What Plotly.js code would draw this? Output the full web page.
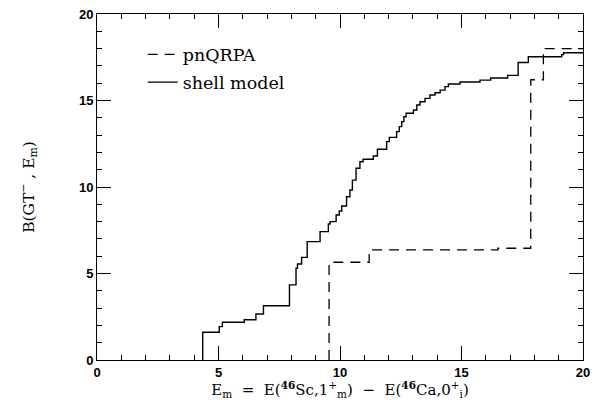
<!DOCTYPE html>
<html>
<head>
<meta charset="utf-8">
<script src="https://cdn.plot.ly/plotly-3.0.1.min.js"></script>
<style>html,body{margin:0;padding:0;background:#fff;}#chart{width:594px;height:400px;}</style>
</head>
<body>
<div id="chart"></div>
<script>
// Shell model cumulative B(GT-) step curve: excitation energies and cumulative strengths
var shellE = [4.35, 4.35, 5.03, 5.16, 6.06, 6.54, 6.85, 7.92, 8.19, 8.25, 8.42, 8.65, 9.18, 9.52, 9.59, 9.84, 9.97, 10.07, 10.27, 10.41, 10.51, 10.66, 10.82, 10.95, 11.37, 11.54, 11.92, 12.03, 12.33, 12.44, 12.54, 12.63, 12.72, 13.02, 13.16, 13.29, 13.5, 13.7, 13.91, 14.12, 14.32, 14.46, 14.94, 15.76, 16.2, 16.9, 17.33, 17.75, 19.12, 19.2, 20];
var shellB = [0, 1.6, 1.93, 2.18, 2.33, 2.66, 3.14, 4.34, 5.3, 5.55, 5.93, 6.84, 7.42, 7.86, 8.0, 8.38, 8.61, 8.9, 9.44, 9.83, 10.4, 11.08, 11.46, 11.6, 11.79, 12.18, 12.62, 12.87, 13.2, 13.49, 13.78, 14.06, 14.26, 14.45, 14.74, 14.93, 15.12, 15.32, 15.45, 15.6, 15.8, 15.95, 16.07, 16.18, 16.3, 16.45, 17.2, 17.53, 17.65, 17.76, 17.8];

// pnQRPA cumulative step curve
var qrpaE = [9.55, 9.55, 11.2, 16.5, 17.85, 18.37, 20];
var qrpaB = [0, 5.65, 6.36, 6.46, 16.2, 18.0, 18.0];

var seriesNames = ["pnQRPA", "shell model"];
var xTickVals = [0, 5, 10, 15, 20];
var yTickVals = [0, 5, 10, 15, 20];

var traces = [
  {x: qrpaE, y: qrpaB, name: seriesNames[0], mode: "lines", legendgroup: "a",
   line: {shape: "hv", color: "#000", width: 1.3, dash: "10px,7px"}},
  {x: shellE, y: shellB, name: seriesNames[1], mode: "lines", legendgroup: "b",
   line: {shape: "hv", color: "#000", width: 1.4}}
];

var axisCommon = {
  showgrid: false, zeroline: false, showline: true, linecolor: "#000", linewidth: 1,
  mirror: "allticks", ticks: "inside", ticklen: 14, tickwidth: 1, tickcolor: "#000",
  tickfont: {family: "Liberation Sans, Arial, sans-serif", size: 13, color: "#000", weight: "bold"},
  minor: {ticks: "inside", ticklen: 5, tickwidth: 1, tickcolor: "#000", dtick: 1, showgrid: false}
};

var layout = {
  width: 594, height: 400,
  margin: {l: 97, r: 11, t: 14, b: 40},
  paper_bgcolor: "#fff", plot_bgcolor: "#fff",
  showlegend: true,
  legend: {x: 0.094, y: 0.935, xanchor: "left", yanchor: "top", bgcolor: "rgba(0,0,0,0)",
           font: {family: "DejaVu Serif, serif", size: 17.5, color: "#000"}, tracegroupgap: 2},
  xaxis: Object.assign({}, axisCommon, {
    range: [0, 20], tickvals: xTickVals, ticktext: xTickVals.map(String),
    title: {text: "E<sub>m</sub>&nbsp;&nbsp;=&nbsp;&nbsp;E(<b><sup>46</sup></b>Sc,1<sup>+</sup><sub>m</sub>)&nbsp;&nbsp;−&nbsp;&nbsp;E(<b><sup>46</sup></b>Ca,0<sup>+</sup><sub>i</sub>)",
            font: {family: "DejaVu Serif, serif", size: 15, color: "#000"}, standoff: 4}
  }),
  yaxis: Object.assign({}, axisCommon, {
    range: [0, 20], tickvals: yTickVals, ticktext: yTickVals.map(String),
    title: {text: "B(GT<sup>−</sup> , E<sub>m</sub>)",
            font: {family: "DejaVu Serif, serif", size: 15.5, color: "#000"}, standoff: 40}
  })
};

Plotly.newPlot("chart", traces, layout, {displayModeBar: false, staticPlot: true});
</script>
</body>
</html>
